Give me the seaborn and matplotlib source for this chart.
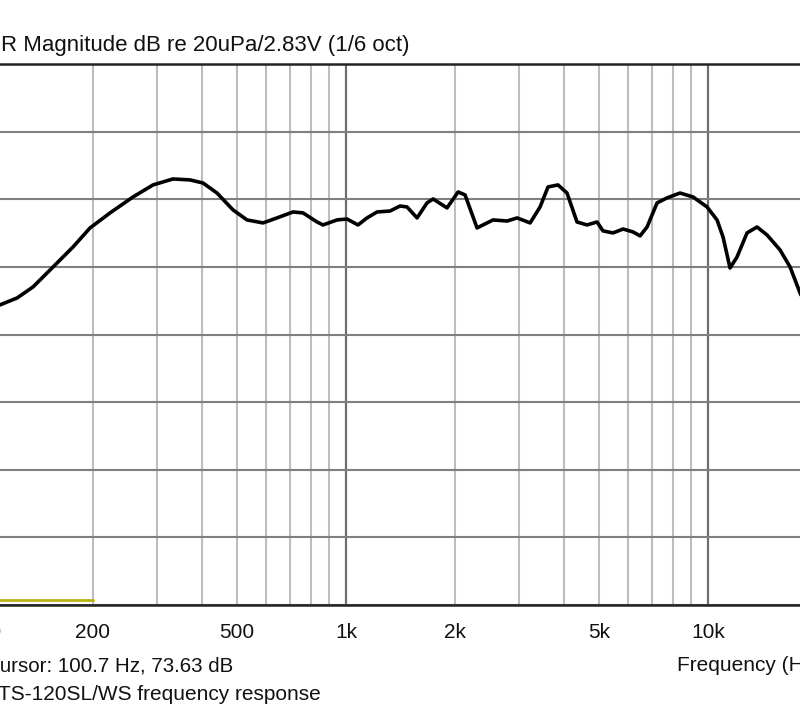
import numpy as np
import pandas as pd
import matplotlib
matplotlib.use("Agg")
import matplotlib.pyplot as plt
import matplotlib.ticker as mticker
import seaborn as sns

# ---- data ----
freq_hz = [102.6, 110.7, 123.4, 136.6, 155.1, 176.1, 196.3, 222.9, 258.0, 293.0,
           332.7, 370.8, 402.7, 440.1, 487.4, 532.7, 589.8, 644.6, 713.8, 760.7,
           831.6, 863.9, 944.3, 1006, 1079, 1143, 1218, 1323, 1410, 1474,
           1571, 1674, 1740, 1901, 2040, 2132, 2301, 2548, 2786, 2969,
           3225, 3436, 3614, 3851, 4078, 4346, 4631, 4936, 5127, 5466,
           5825, 6208, 6491, 6786, 7232, 7706, 8370, 9089, 9937, 10590,
           11002, 11502, 12025, 12815, 13658, 14555, 15813, 16852, 17958, 19380]
spl_db = [71.89, 72.19, 72.70, 73.52, 74.99, 76.47, 77.88, 78.99, 80.17, 81.06,
          81.50, 81.43, 81.20, 80.46, 79.21, 78.47, 78.25, 78.62, 79.06, 78.99,
          78.32, 78.10, 78.47, 78.54, 78.10, 78.62, 79.06, 79.13, 79.50, 79.43,
          78.62, 79.73, 80.02, 79.36, 80.54, 80.32, 77.88, 78.47, 78.39, 78.62,
          78.25, 79.43, 80.91, 81.06, 80.46, 78.32, 78.10, 78.32, 77.66, 77.51,
          77.80, 77.58, 77.29, 77.95, 79.73, 80.10, 80.46, 80.17, 79.43, 78.47,
          77.21, 74.92, 75.73, 77.51, 77.95, 77.36, 76.25, 74.99, 73.07, 71.08]

marker_freq = [20, 200]
marker_db = [50.4, 50.4]

major_ticks = [100, 1000, 10000]
major_labels = ["100", "1k", "10k"]
minor_label_map = {20: "20", 50: "50", 200: "200", 500: "500",
                   2000: "2k", 5000: "5k", 20000: "20k"}

title_text = "R Magnitude dB re 20uPa/2.83V (1/6 oct)"
cursor_text = "Cursor: 100.7 Hz, 73.63 dB"
caption_text = "TS-120SL/WS frequency response"
xlabel_text = "Frequency (Hz)"

# ---- styling ----
sns.set_theme(style="white")
plt.rcParams["font.family"] = ["Liberation Sans", "DejaVu Sans"]

W, H = 800, 715
fig = plt.figure(figsize=(W / 100, H / 100), dpi=100)
fig.patch.set_facecolor("white")

# axes extends past the canvas (the reference is a crop)
left_px, right_px, top_px, bot_px = -269, 817, 64, 605
ax = fig.add_axes([left_px / W, (H - bot_px) / H,
                   (right_px - left_px) / W, (bot_px - top_px) / H])
ax.set_facecolor("white")

df = pd.DataFrame({"freq": freq_hz, "spl": spl_db})
sns.lineplot(data=df, x="freq", y="spl", ax=ax, color="black", lw=2.6,
             sort=False, estimator=None, zorder=5)
mk = pd.DataFrame({"freq": marker_freq, "spl": marker_db})
sns.lineplot(data=mk, x="freq", y="spl", ax=ax, color="#b9b112", lw=2.0,
             sort=False, estimator=None, zorder=4)

ax.set_xscale("log")
ax.set_xlim(20, 20000)
ax.set_ylim(50, 90)

ax.xaxis.set_major_locator(mticker.FixedLocator(major_ticks))
ax.xaxis.set_major_formatter(mticker.FixedFormatter(major_labels))
minor_pos = [m * d for d in (10, 100, 1000, 10000) for m in range(2, 10)
             if 20 <= m * d <= 20000]
ax.xaxis.set_minor_locator(mticker.FixedLocator(minor_pos))
ax.xaxis.set_minor_formatter(mticker.FixedFormatter(
    [minor_label_map.get(p, "") for p in minor_pos]))
ax.yaxis.set_major_locator(mticker.MultipleLocator(5))
ax.set_yticklabels([])

ax.tick_params(axis="x", which="both", length=0, pad=13, labelsize=15,
               labelcolor="#111111")
ax.tick_params(axis="y", length=0)
ax.set_xlabel("")
ax.set_ylabel("")

ax.set_axisbelow(True)
ax.grid(True, axis="x", which="major", color="#6e6e6e", lw=1.6)
ax.grid(True, axis="x", which="minor", color="#bdbdbd", lw=1.5)
ax.grid(True, axis="y", which="major", color="#7f7f7f", lw=1.5)

for s in ("top", "bottom", "left", "right"):
    ax.spines[s].set_color("#222222")
    ax.spines[s].set_linewidth(1.8)

def fx(px):
    return px / W

def fy(py):
    return (H - py) / H

fig.text(fx(1), fy(51), title_text, fontsize=16, color="#111111",
         ha="left", va="baseline")
fig.text(fx(-15), fy(671), cursor_text, fontsize=14.8, color="#111111",
         ha="left", va="baseline")
fig.text(fx(-2), fy(700), caption_text, fontsize=15, color="#111111",
         ha="left", va="baseline")
fig.text(fx(677), fy(671), xlabel_text, fontsize=15, color="#111111",
         ha="left", va="baseline")

fig.savefig("out.png", dpi=100, facecolor="white")
